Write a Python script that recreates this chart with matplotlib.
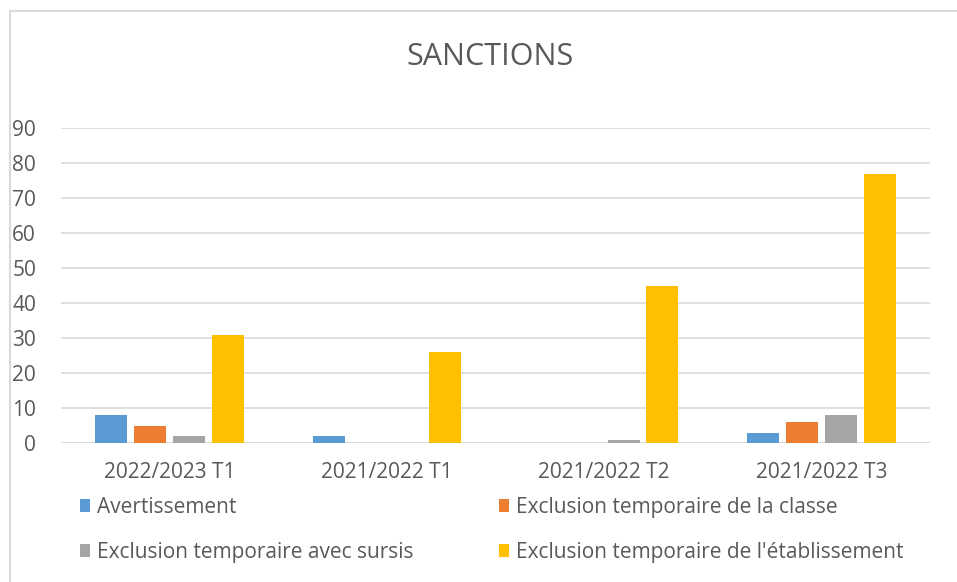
import matplotlib
matplotlib.use('Agg')
import matplotlib.pyplot as plt
import numpy as np
from matplotlib.patches import Patch
from matplotlib.lines import Line2D

plt.rcParams['font.family'] = ['Open Sans', 'DejaVu Sans']

categories = ['2022/2023 T1', '2021/2022 T1', '2021/2022 T2', '2021/2022 T3']
series = ['Avertissement',
          'Exclusion temporaire de la classe',
          'Exclusion temporaire avec sursis',
          "Exclusion temporaire de l'établissement"]
avertissement = [8, 2, 0, 3]
excl_classe = [5, 0, 0, 6]
excl_sursis = [2, 0, 1, 8]
excl_etab = [31, 26, 45, 77]
colors = ['#5b9bd5', '#ed7d31', '#a5a5a5', '#ffc000']

W, H = 957, 582
fig = plt.figure(figsize=(W / 100, H / 100), dpi=100)
ax = fig.add_axes([61 / W, 1 - 443 / H, (930 - 61) / W, (443 - 128) / H])

x = np.arange(len(categories))
bw = 0.147
gap = 0.032
values = [avertissement, excl_classe, excl_sursis, excl_etab]
for i, (vals, c) in enumerate(zip(values, colors)):
    off = (i - 1.5) * (bw + gap)
    ax.bar(x + off, vals, width=bw, color=c, zorder=3)

ax.set_xlim(-0.5, len(categories) - 0.5)
ax.set_ylim(0, 90)
ax.set_yticks(range(0, 91, 10))
ax.yaxis.grid(True, color='#d9d9d9', linewidth=1.2, zorder=0)
for s in ax.spines.values():
    s.set_visible(False)
ax.axhline(0, color='#d9d9d9', linewidth=1.2, zorder=1)
ax.tick_params(axis='both', length=0, colors='#595959', labelsize=15)
ax.tick_params(axis='y', pad=18)
ax.tick_params(axis='x', pad=14)
ax.set_xticks(x)
ax.set_xticklabels(categories)

fig.text(490 / W, 1 - 57 / H, 'SANCTIONS', ha='center', va='center',
         fontsize=22, color='#595959')

# cadre du graphique
fig.add_artist(Line2D([10 / W, 10 / W], [0, 1 - 11 / H], transform=fig.transFigure,
                      color='#d9d9d9', linewidth=1.5))
fig.add_artist(Line2D([10 / W, 1], [1 - 11 / H, 1 - 11 / H], transform=fig.transFigure,
                      color='#d9d9d9', linewidth=1.5))

handles = [Patch(facecolor=c, edgecolor='none') for c in colors]
leg_kw = dict(loc='upper left', frameon=False, fontsize=15, labelcolor='#595959',
              handlelength=0.5, handleheight=0.55, handletextpad=0.3,
              labelspacing=1.15, borderaxespad=0, borderpad=0)
fig.legend([handles[0], handles[2]], [series[0], series[2]],
           bbox_to_anchor=(80 / W, 1 - 497 / H), **leg_kw)
fig.legend([handles[1], handles[3]], [series[1], series[3]],
           bbox_to_anchor=(499 / W, 1 - 497 / H), **leg_kw)

fig.savefig('out.png', dpi=100, facecolor='white')
